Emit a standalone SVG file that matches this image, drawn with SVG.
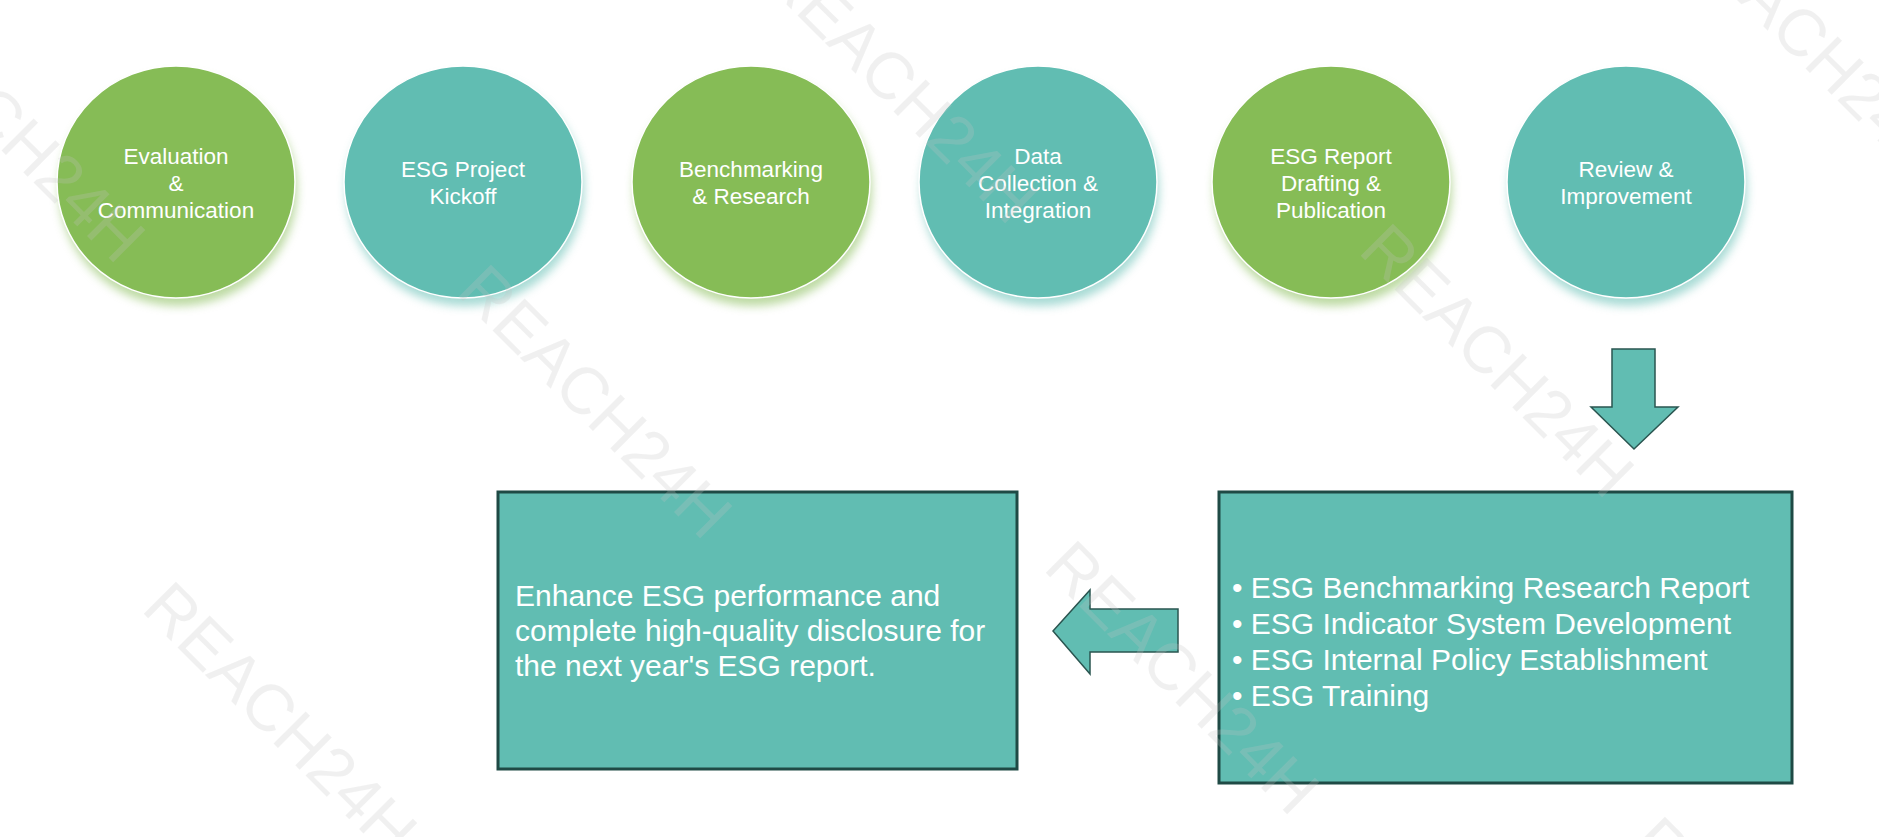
<svg xmlns="http://www.w3.org/2000/svg" width="1879" height="837" viewBox="0 0 1879 837">
<defs>
<filter id="glow" x="-20%" y="-20%" width="140%" height="140%">
<feGaussianBlur stdDeviation="5"/>
</filter>
<style>
.green{fill:#86BC56}
.teal{fill:#61BDB2}
.disc{stroke:#ffffff;stroke-width:1.5}
.halo{opacity:0.55;filter:url(#glow)}
.ct{font-family:"Liberation Sans",Arial,sans-serif;font-size:22.5px;fill:#ffffff;text-anchor:middle}
.bt{font-family:"Liberation Sans",Arial,sans-serif;font-size:30px;fill:#ffffff}
.box{fill:#61BDB2;stroke:#1F4A45;stroke-width:3}
.arrow{fill:#61BDB2;stroke:#2A5550;stroke-width:1.5;stroke-linejoin:miter}
.wm{font-family:"Liberation Sans",Arial,sans-serif;font-size:66px;fill:#c4c4c4;opacity:0.24}
</style>
</defs>
<rect width="1879" height="837" fill="#ffffff"/>

<g id="node-evaluation">
<ellipse class="green halo" cx="178" cy="190" rx="119" ry="116"/>
<ellipse class="green disc" cx="176" cy="182" rx="119" ry="116"/>
<text class="ct" x="176" y="164">Evaluation</text>
<text class="ct" x="176" y="191">&amp;</text>
<text class="ct" x="176" y="218">Communication</text>
</g>

<g id="node-kickoff">
<ellipse class="teal halo" cx="465" cy="190" rx="119" ry="116"/>
<ellipse class="teal disc" cx="463" cy="182" rx="119" ry="116"/>
<text class="ct" x="463" y="177">ESG Project</text>
<text class="ct" x="463" y="204">Kickoff</text>
</g>

<g id="node-benchmarking">
<ellipse class="green halo" cx="753" cy="190" rx="119" ry="116"/>
<ellipse class="green disc" cx="751" cy="182" rx="119" ry="116"/>
<text class="ct" x="751" y="177">Benchmarking</text>
<text class="ct" x="751" y="204">&amp; Research</text>
</g>

<g id="node-data">
<ellipse class="teal halo" cx="1040" cy="190" rx="119" ry="116"/>
<ellipse class="teal disc" cx="1038" cy="182" rx="119" ry="116"/>
<text class="ct" x="1038" y="164">Data</text>
<text class="ct" x="1038" y="191">Collection &amp;</text>
<text class="ct" x="1038" y="218">Integration</text>
</g>

<g id="node-report">
<ellipse class="green halo" cx="1333" cy="190" rx="119" ry="116"/>
<ellipse class="green disc" cx="1331" cy="182" rx="119" ry="116"/>
<text class="ct" x="1331" y="164">ESG Report</text>
<text class="ct" x="1331" y="191">Drafting &amp;</text>
<text class="ct" x="1331" y="218">Publication</text>
</g>

<g id="node-review">
<ellipse class="teal halo" cx="1628" cy="190" rx="119" ry="116"/>
<ellipse class="teal disc" cx="1626" cy="182" rx="119" ry="116"/>
<text class="ct" x="1626" y="177">Review &amp;</text>
<text class="ct" x="1626" y="204">Improvement</text>
</g>

<g id="node-deliverables">
<rect class="box" x="1219" y="492" width="573" height="291"/>
<text class="bt" x="1232" y="598">• ESG Benchmarking Research Report</text>
<text class="bt" x="1232" y="634">• ESG Indicator System Development</text>
<text class="bt" x="1232" y="670">• ESG Internal Policy Establishment</text>
<text class="bt" x="1232" y="706">• ESG Training</text>
</g>

<g id="node-goal">
<rect class="box" x="498" y="492" width="519" height="277"/>
<text class="bt" x="515" y="606">Enhance ESG performance and</text>
<text class="bt" x="515" y="641">complete high-quality disclosure for</text>
<text class="bt" x="515" y="676">the next year's ESG report.</text>
</g>

<g id="connectors">
<polygon class="arrow" points="1612,349 1655,349 1655,407 1678,407 1634,449 1591,407 1612,407"/>
<polygon class="arrow" points="1178,609 1178,652 1090,652 1090,674 1053,631 1090,590 1090,609"/>
</g>

<g id="watermarks">
<text class="wm" transform="translate(-132,17) rotate(45)">REACH24H</text>
<text class="wm" transform="translate(760,-22) rotate(45)">REACH24H</text>
<text class="wm" transform="translate(1672,-65) rotate(45)">REACH24H</text>
<text class="wm" transform="translate(455,293) rotate(45)">REACH24H</text>
<text class="wm" transform="translate(1357,252) rotate(45)">REACH24H</text>
<text class="wm" transform="translate(140,610) rotate(45)">REACH24H</text>
<text class="wm" transform="translate(1042,569) rotate(45)">REACH24H</text>
<text class="wm" transform="translate(1629,845) rotate(45)">REACH24H</text>
</g>
</svg>
